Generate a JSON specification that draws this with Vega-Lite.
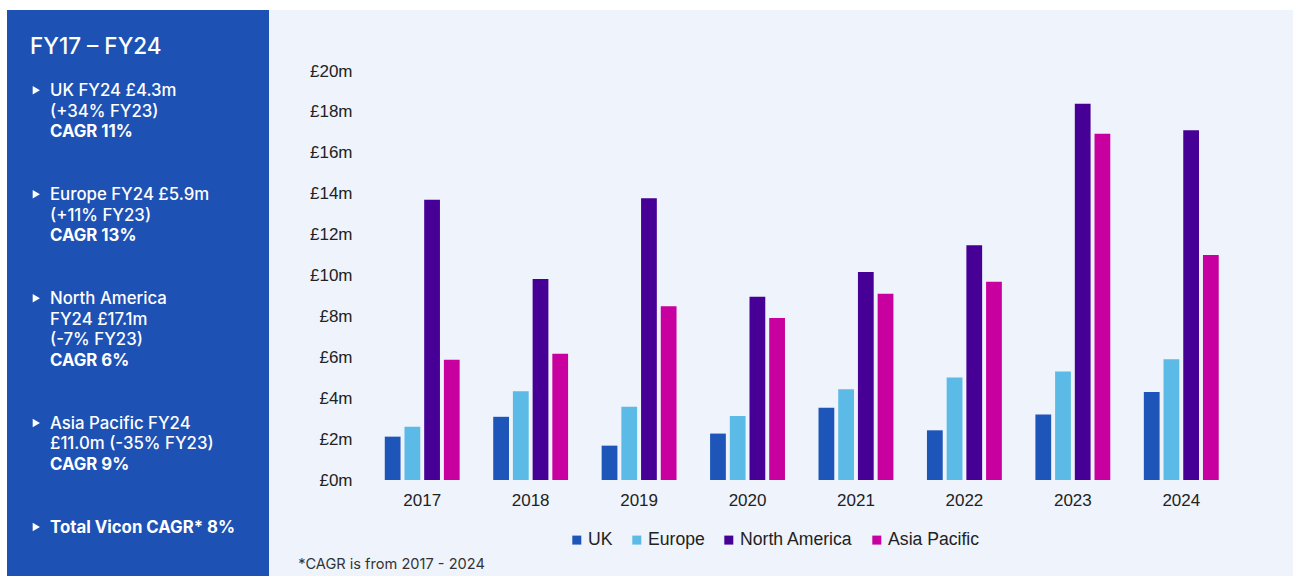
{
  "$schema": "https://vega.github.io/schema/vega-lite/v6.json",
  "background": "white",
  "padding": {"left": 7, "top": 10, "right": 0, "bottom": 0},
  "spacing": 0,
  "config": {"view": {"stroke": null}},
  "hconcat": [
    {
      "width": 262,
      "height": 566,
      "view": {"fill": "#1E51B4", "stroke": null},
      "data": {
        "values": [
          {"line": 0, "role": "title", "text": "FY17 – FY24"},
          {"line": 2, "role": "lead", "text": "UK FY24 £4.3m"},
          {"line": 3, "role": "detail", "text": "(+34% FY23)"},
          {"line": 4, "role": "cagr", "text": "CAGR 11%"},
          {"line": 7, "role": "lead", "text": "Europe FY24 £5.9m"},
          {"line": 8, "role": "detail", "text": "(+11% FY23)"},
          {"line": 9, "role": "cagr", "text": "CAGR 13%"},
          {"line": 12, "role": "lead", "text": "North America"},
          {"line": 13, "role": "detail", "text": "FY24 £17.1m"},
          {"line": 14, "role": "detail", "text": "(-7% FY23)"},
          {"line": 15, "role": "cagr", "text": "CAGR 6%"},
          {"line": 18, "role": "lead", "text": "Asia Pacific FY24"},
          {"line": 19, "role": "detail", "text": "£11.0m  (-35% FY23)"},
          {"line": 20, "role": "cagr", "text": "CAGR 9%"},
          {"line": 23, "role": "total", "text": "Total Vicon CAGR* 8%"}
        ]
      },
      "encoding": {
        "y": {"field": "line", "type": "quantitative", "scale": {"domain": [-2.12, 25.09], "reverse": true, "zero": false, "nice": false}, "axis": null}
      },
      "layer": [
        {
          "transform": [{"filter": "datum.role == 'title'"}],
          "mark": {"type": "text", "align": "left", "baseline": "alphabetic", "font": "Inter", "fontSize": 22.5, "fontWeight": 500, "color": "white"},
          "encoding": {
            "x": {"datum": "title", "type": "nominal", "scale": {"type": "point", "domain": ["title", "body"], "range": [23, 43], "padding": 0}, "axis": null},
            "text": {"field": "text"}
          }
        },
        {
          "transform": [{"filter": "datum.role == 'lead' || datum.role == 'detail'"}],
          "mark": {"type": "text", "align": "left", "baseline": "alphabetic", "font": "Inter", "fontSize": 16.8, "fontWeight": 500, "color": "white"},
          "encoding": {
            "x": {"datum": "body", "type": "nominal", "axis": null},
            "text": {"field": "text"}
          }
        },
        {
          "transform": [{"filter": "datum.role == 'cagr' || datum.role == 'total'"}],
          "mark": {"type": "text", "align": "left", "baseline": "alphabetic", "font": "Inter", "fontSize": 16.8, "fontWeight": 700, "color": "white"},
          "encoding": {
            "x": {"datum": "body", "type": "nominal", "axis": null},
            "text": {"field": "text"}
          }
        },
        {
          "transform": [{"filter": "datum.role == 'lead' || datum.role == 'total'"}],
          "mark": {"type": "point", "shape": "triangle-right", "filled": true, "color": "white", "opacity": 1, "size": 70, "xOffset": 6.3, "yOffset": -5.5},
          "encoding": {
            "x": {"datum": "title", "type": "nominal", "axis": null}
          }
        }
      ]
    },
    {
      "width": 1024,
      "height": 566,
      "view": {"fill": "#EEF3FC", "stroke": null},
      "title": {"text": "*CAGR is from 2017 - 2024", "orient": "bottom", "anchor": "start", "frame": "group", "offset": -7, "dx": 29.3, "font": "Inter", "fontSize": 14.6, "fontWeight": 400, "color": "#333333", "baseline": "alphabetic"},
      "data": {
        "values": [
          {"year": "2017", "region": "UK", "value": 2.12},
          {"year": "2017", "region": "Europe", "value": 2.6},
          {"year": "2017", "region": "North America", "value": 13.7},
          {"year": "2017", "region": "Asia Pacific", "value": 5.88},
          {"year": "2018", "region": "UK", "value": 3.09},
          {"year": "2018", "region": "Europe", "value": 4.34},
          {"year": "2018", "region": "North America", "value": 9.83},
          {"year": "2018", "region": "Asia Pacific", "value": 6.17},
          {"year": "2019", "region": "UK", "value": 1.68},
          {"year": "2019", "region": "Europe", "value": 3.58},
          {"year": "2019", "region": "North America", "value": 13.78},
          {"year": "2019", "region": "Asia Pacific", "value": 8.5},
          {"year": "2020", "region": "UK", "value": 2.27},
          {"year": "2020", "region": "Europe", "value": 3.13},
          {"year": "2020", "region": "North America", "value": 8.96},
          {"year": "2020", "region": "Asia Pacific", "value": 7.92},
          {"year": "2021", "region": "UK", "value": 3.53},
          {"year": "2021", "region": "Europe", "value": 4.44},
          {"year": "2021", "region": "North America", "value": 10.17},
          {"year": "2021", "region": "Asia Pacific", "value": 9.11},
          {"year": "2022", "region": "UK", "value": 2.43},
          {"year": "2022", "region": "Europe", "value": 5.01},
          {"year": "2022", "region": "North America", "value": 11.48},
          {"year": "2022", "region": "Asia Pacific", "value": 9.7},
          {"year": "2023", "region": "UK", "value": 3.2},
          {"year": "2023", "region": "Europe", "value": 5.31},
          {"year": "2023", "region": "North America", "value": 18.4},
          {"year": "2023", "region": "Asia Pacific", "value": 16.93},
          {"year": "2024", "region": "UK", "value": 4.3},
          {"year": "2024", "region": "Europe", "value": 5.9},
          {"year": "2024", "region": "North America", "value": 17.1},
          {"year": "2024", "region": "Asia Pacific", "value": 11.0}
        ]
      },
      "mark": {"type": "bar"},
      "encoding": {
        "x": {
          "field": "year", "type": "ordinal",
          "scale": {"type": "band", "range": [99, 966.5], "paddingInner": 0.273, "paddingOuter": 0.1365},
          "axis": {"orient": "bottom", "offset": -96, "title": null, "labelAngle": 0, "ticks": false, "domain": false, "grid": false, "labelPadding": 12, "labelFont": "Liberation Sans", "labelFontSize": 17, "labelColor": "#222222"}
        },
        "xOffset": {
          "field": "region", "type": "nominal",
          "sort": ["UK", "Europe", "North America", "Asia Pacific"],
          "scale": {"paddingInner": 0.2, "paddingOuter": 0.1}
        },
        "y": {
          "field": "value", "type": "quantitative",
          "scale": {"domain": [0, 20], "range": [470, 61], "nice": false},
          "axis": {"offset": -99, "values": [0, 2, 4, 6, 8, 10, 12, 14, 16, 18, 20], "labelExpr": "'£' + datum.value + 'm'", "grid": false, "ticks": false, "domain": false, "labelPadding": 16, "title": null, "labelFont": "Liberation Sans", "labelFontSize": 17, "labelColor": "#222222"}
        },
        "color": {
          "field": "region", "type": "nominal",
          "scale": {"domain": ["UK", "Europe", "North America", "Asia Pacific"], "range": ["#1E55B9", "#5BBAE6", "#460096", "#C800A0"]},
          "legend": {"orient": "none", "legendX": 561, "legendY": 521, "direction": "horizontal", "columns": 4, "symbolType": "square", "symbolSize": 81, "symbolStrokeWidth": 0, "columnPadding": 15, "labelFont": "Liberation Sans", "labelFontSize": 17.6, "labelColor": "#222222", "labelOffset": 2.5, "title": null, "padding": 0}
        }
      }
    }
  ]
}
